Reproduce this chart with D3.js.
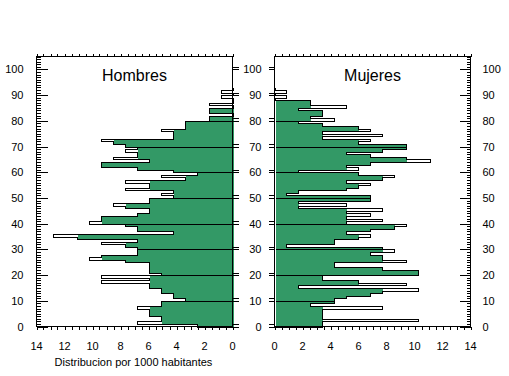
<!DOCTYPE html>
<html>
<head>
<meta charset="utf-8">
<script src="https://cdn.jsdelivr.net/npm/d3@7"></script>
<style>
  body { margin: 0; background: #fff; }
  svg { display: block; font-family: "Liberation Sans", Arial, sans-serif; }
  .frame { fill: none; stroke: #000; stroke-width: 1; }
  .tick-line { stroke: #000; stroke-width: 1; }
  .tick-label { font-size: 11px; fill: #000; }
  .panel-title { font-size: 16px; fill: #000; }
  .axis-title { font-size: 11px; fill: #000; }
</style>
</head>
<body>
<svg id="chart" width="509" height="376"></svg>
<script>
// age (years) of each bar
const ages = d3.range(0, 93);

// per 1000 inhabitants (steps of ~0.855)
const hombres = [
  2.56, 6.84, 5.13, 5.13, 5.98, 5.98, 5.98, 6.84, 5.13, 5.13,
  3.42, 4.27, 4.27, 5.13, 5.13, 5.98, 5.98, 9.40, 5.98, 9.40,
  5.13, 5.98, 5.98, 5.98, 5.98, 7.69, 10.26, 9.40, 6.84, 6.84,
  6.84, 7.69, 9.40, 6.84, 11.11, 12.82, 4.27, 6.84, 6.84, 7.69,
  10.26, 9.40, 9.40, 6.84, 5.98, 5.98, 7.69, 8.55, 5.98, 5.98,
  4.27, 5.13, 4.27, 7.69, 5.98, 5.98, 7.69, 3.42, 5.13, 2.56,
  4.27, 6.84, 9.40, 9.40, 5.98, 8.55, 6.84, 6.84, 7.69, 6.84,
  7.69, 8.55, 9.40, 4.27, 4.27, 4.27, 5.13, 3.42, 3.42, 3.42,
  1.71, 1.71, 0, 1.71, 1.71, 0, 1.71, 0, 0, 0.85,
  0, 0.85, 0
];

const mujeres = [
  3.42, 3.42, 10.26, 3.42, 3.42, 3.42, 3.42, 7.69, 2.56, 4.27,
  4.27, 5.13, 6.84, 7.69, 10.26, 1.71, 9.40, 5.98, 3.42, 3.42,
  10.26, 10.26, 7.69, 4.27, 4.27, 9.40, 7.69, 7.69, 6.84, 8.55,
  7.69, 0.85, 4.27, 4.27, 5.98, 6.84, 5.13, 6.84, 8.55, 9.40,
  5.13, 7.69, 5.13, 6.84, 5.13, 7.69, 1.71, 5.13, 1.71, 6.84,
  6.84, 0.85, 1.71, 5.13, 5.98, 6.84, 5.13, 7.69, 8.55, 5.98,
  1.71, 5.98, 5.13, 6.84, 11.11, 9.40, 6.84, 5.13, 7.69, 9.40,
  9.40, 5.98, 6.84, 3.42, 7.69, 3.42, 6.84, 5.98, 3.42, 1.71,
  4.27, 2.56, 3.42, 3.42, 1.71, 5.13, 2.56, 2.56, 0, 0.85,
  0, 0.85, 0
];

const xTicks = [0, 2, 4, 6, 8, 10, 12, 14];
const yTicks = [0, 10, 20, 30, 40, 50, 60, 70, 80, 90, 100];

class PyramidPanel {
    constructor(_config, _data) {
        this.config = {
            parentElement: _config.parentElement,
            left: _config.left,
            right: _config.right,
            top: _config.top || 56.5,
            bottom: _config.bottom || 326.5,
            reversed: _config.reversed,
            title: _config.title,
            labelsLeft: _config.labelsLeft,
            labelsRight: _config.labelsRight
        };
        this.data = _data;
        this.initVis();
    }

    initVis() {
        let vis = this;
        let c = vis.config;

        vis.xScale = d3.scaleLinear()
            .domain(c.reversed ? [14, 0] : [0, 14])
            .range([c.left, c.right]);

        vis.yScale = d3.scaleLinear()
            .domain([0, 105])
            .range([c.bottom, c.top]);

        vis.svg = d3.select(c.parentElement);
        vis.chart = vis.svg.append('g');

        vis.renderVis();
    }

    renderVis() {
        let vis = this;
        let c = vis.config;
        let x = d => Math.round(vis.xScale(d)) + 0.5;
        let y = d => Math.round(vis.yScale(d)) + 0.5;
        let x0 = x(0);
        let vals = vis.data;
        let v = a => vals[a] || 0;

        // green fill: a peak only gets filled as far as its widest neighbour
        let fillVal = a => Math.min(v(a), Math.max(v(a - 1), v(a + 1)));

        vis.chart.selectAll('.bar-fill')
            .data(ages)
            .join('rect')
            .attr('class', 'bar-fill')
            .attr('shape-rendering', 'crispEdges')
            .attr('fill', '#339966')
            .attr('x', a => Math.min(x0, x(fillVal(a))))
            .attr('width', a => Math.abs(x(fillVal(a)) - x0))
            .attr('y', a => y(a + 1))
            .attr('height', a => y(a) - y(a + 1));

        // step outline
        let pts = [[0, 0]];
        ages.forEach(a => {
            pts.push([v(a), a]);
            pts.push([v(a), a + 1]);
        });
        pts.push([0, ages.length]);

        let line = d3.line()
            .x(d => x(d[0]))
            .y(d => y(d[1]));

        vis.chart.append('path')
            .datum(pts)
            .attr('d', line)
            .attr('fill', 'none')
            .attr('stroke', '#000')
            .attr('stroke-width', 1)
            .attr('shape-rendering', 'crispEdges');

        // decade lines across the bars
        vis.chart.selectAll('.decade')
            .data(yTicks.filter(d => d > 0 && d <= ages.length))
            .join('line')
            .attr('class', 'tick-line decade')
            .attr('shape-rendering', 'crispEdges')
            .attr('x1', x0)
            .attr('x2', d => x(Math.max(v(d - 1), v(d))))
            .attr('y1', d => y(d))
            .attr('y2', d => y(d));

        // frame
        vis.chart.append('rect')
            .attr('class', 'frame')
            .attr('shape-rendering', 'crispEdges')
            .attr('x', c.left)
            .attr('y', c.top)
            .attr('width', c.right - c.left)
            .attr('height', c.bottom - c.top);

        // top and bottom ticks (outside), every 0.5
        let halfTicks = d3.range(0, 14.01, 0.5);
        ['top', 'bottom'].forEach(side => {
            let yy = side === 'top' ? c.top : c.bottom;
            let dir = side === 'top' ? -1 : 1;
            vis.chart.selectAll('.tick-' + side)
                .data(halfTicks)
                .join('line')
                .attr('class', 'tick-line tick-' + side)
                .attr('shape-rendering', 'crispEdges')
                .attr('x1', d => x(d))
                .attr('x2', d => x(d))
                .attr('y1', yy)
                .attr('y2', yy + dir * 3);
        });

        vis.chart.selectAll('.x-label')
            .data(xTicks)
            .join('text')
            .attr('class', 'tick-label x-label')
            .attr('text-anchor', 'middle')
            .attr('x', d => vis.xScale(d))
            .attr('y', c.bottom + 23)
            .text(d => d);

        // outer y axis: minor + major ticks pointing inside
        let outerX = c.reversed ? c.left : c.right;
        let inDir = c.reversed ? 1 : -1;
        vis.chart.selectAll('.y-minor')
            .data(d3.range(0, 106))
            .join('line')
            .attr('class', 'tick-line y-minor')
            .attr('shape-rendering', 'crispEdges')
            .attr('x1', outerX)
            .attr('x2', d => outerX + inDir * (d % 10 === 0 ? 11 : 4))
            .attr('y1', d => y(d))
            .attr('y2', d => y(d));

        // inner y axis: double ticks pointing outside
        let innerX = c.reversed ? c.right : c.left;
        let outDir = c.reversed ? 1 : -1;
        vis.chart.selectAll('.y-inner')
            .data(yTicks.flatMap(d => [d, d + 1]))
            .join('line')
            .attr('class', 'tick-line y-inner')
            .attr('shape-rendering', 'crispEdges')
            .attr('x1', innerX)
            .attr('x2', innerX + outDir * 6)
            .attr('y1', d => y(d))
            .attr('y2', d => y(d));

        if (c.labelsLeft) {
            vis.chart.selectAll('.y-label-l')
                .data(yTicks)
                .join('text')
                .attr('class', 'tick-label y-label-l')
                .attr('text-anchor', 'end')
                .attr('dominant-baseline', 'central')
                .attr('x', c.left - 13)
                .attr('y', d => vis.yScale(d))
                .text(d => d);
        }
        if (c.labelsRight) {
            vis.chart.selectAll('.y-label-r')
                .data(yTicks)
                .join('text')
                .attr('class', 'tick-label y-label-r')
                .attr('text-anchor', 'start')
                .attr('dominant-baseline', 'central')
                .attr('x', c.right + 12)
                .attr('y', d => vis.yScale(d))
                .text(d => d);
        }

        vis.chart.append('text')
            .attr('class', 'panel-title')
            .attr('text-anchor', 'middle')
            .attr('x', (c.left + c.right) / 2)
            .attr('y', 81)
            .text(c.title);
    }
}

let men = new PyramidPanel({
    parentElement: '#chart', left: 36.5, right: 232.5,
    reversed: true, title: 'Hombres', labelsLeft: true
}, hombres);

let women = new PyramidPanel({
    parentElement: '#chart', left: 274.5, right: 470.5,
    reversed: false, title: 'Mujeres', labelsLeft: true, labelsRight: true
}, mujeres);

d3.select('#chart').append('text')
    .attr('class', 'axis-title')
    .attr('text-anchor', 'middle')
    .attr('x', 133.5)
    .attr('y', 366)
    .text('Distribucion por 1000 habitantes');
</script>
</body>
</html>
